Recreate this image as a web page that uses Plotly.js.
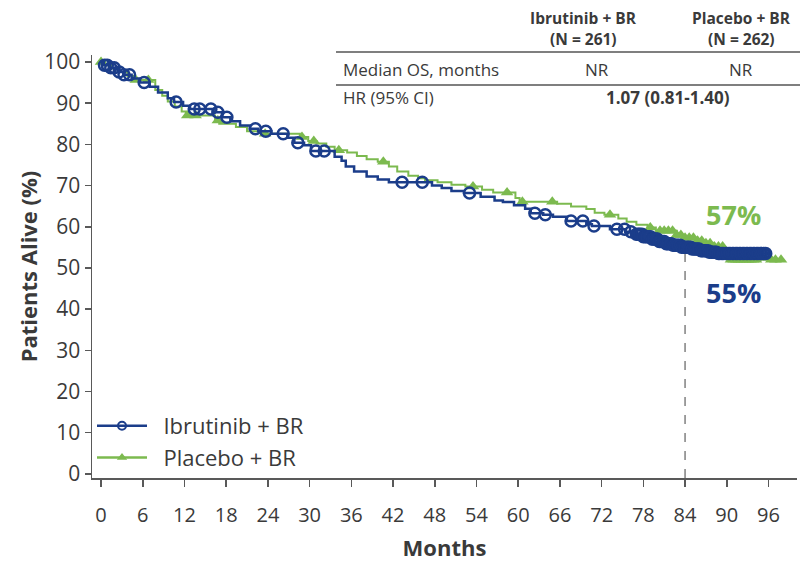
<!DOCTYPE html>
<html>
<head>
<meta charset="utf-8">
<script src="https://cdn.plot.ly/plotly-3.0.1.min.js"></script>
<style>
  html, body { margin: 0; padding: 0; background: #ffffff; }
  #chart { width: 800px; height: 563px; }
</style>
</head>
<body>
<div id="chart"></div>
<script>
// ---- Data ----
const seriesNames = ["Ibrutinib + BR", "Placebo + BR"];

// Ibrutinib + BR: Kaplan-Meier steps (month, % alive after that month)
const ibruTimes = [0, 0.4, 1.2, 2.4, 3.2, 4.4, 5.6, 7.0, 8.2, 9.6, 10.5, 11.8, 12.8, 16.2, 17.4, 18.6, 20.0, 21.4, 22.6, 24.5, 26.8, 27.8, 29.2, 30.2, 33.6, 34.6, 35.2, 36.4, 38.2, 39.8, 41.4, 47.6, 49.0, 50.4, 52.2, 54.6, 56.6, 57.8, 59.4, 61.0, 61.8, 63.6, 65.0, 67.0, 69.8, 70.6, 73.2, 75.4, 77.0, 78.0, 79.2, 80.2, 81.2, 82.2, 83.4, 85.0, 86.2, 87.4, 88.6];
const ibruSurv  = [100, 99.2, 98.6, 97.6, 96.9, 96.0, 95.0, 94.0, 92.6, 91.2, 90.3, 89.4, 88.6, 87.8, 86.6, 85.6, 84.6, 83.8, 83.2, 82.6, 81.6, 80.4, 79.8, 78.4, 77.0, 76.0, 74.6, 73.4, 72.2, 71.5, 70.8, 70.0, 69.4, 68.7, 68.2, 67.3, 66.4, 66.0, 65.2, 64.4, 63.3, 62.9, 62.4, 61.4, 60.6, 60.2, 59.4, 58.8, 58.2, 57.6, 57.0, 56.4, 55.9, 55.5, 55.0, 54.6, 54.2, 53.8, 53.5];
const ibruCensor = [0.5, 0.9, 1.4, 1.9, 2.6, 3.3, 4.1, 6.2, 10.8, 13.4, 14.2, 15.8, 16.8, 18.1, 22.2, 23.7, 26.2, 28.3, 30.9, 32.1, 43.3, 46.2, 53.0, 62.4, 63.9, 67.6, 69.3, 70.9, 74.2, 75.3, 76.2,
  77.0, 77.3, 77.5, 77.8, 78.0, 78.3, 78.5, 78.8, 79.0, 79.3, 79.5, 79.8, 80.0, 80.3, 80.5, 80.8, 81.0, 81.3, 81.5, 81.8, 82.0, 82.3, 82.5, 82.8, 83.0, 83.3, 83.5, 83.8, 84.0, 84.3, 84.5, 84.8, 85.0, 85.3, 85.5, 85.8, 86.0, 86.3, 86.5, 86.8, 87.0, 87.3, 87.5, 87.8, 88.0, 88.3, 88.5, 88.8, 89.0, 89.3, 89.5, 89.8, 90.0, 90.3, 90.5, 90.8, 91.0, 91.3, 91.5, 91.8, 92.0, 92.3, 92.5, 92.8, 93.0, 93.3, 93.5, 93.8, 94.0, 94.3, 94.5, 94.8, 95.0, 95.3, 95.6];

// Placebo + BR
const placTimes = [0, 0.6, 1.6, 2.6, 3.8, 4.8, 7.8, 8.8, 9.6, 10.6, 11.6, 12.2, 16.4, 17.0, 19.4, 21.0, 23.0, 28.6, 29.8, 31.0, 32.4, 33.6, 35.4, 36.8, 38.2, 39.8, 41.4, 42.6, 44.2, 45.6, 46.6, 48.4, 50.4, 52.4, 54.8, 56.4, 59.6, 60.2, 65.6, 67.6, 69.8, 71.0, 72.4, 74.4, 75.6, 77.0, 78.6, 79.8, 82.8, 83.6, 85.6, 86.8, 88.2, 89.6, 90.4];
const placSurv  = [100, 99.2, 98.4, 97.6, 96.6, 95.6, 93.2, 91.8, 90.4, 89.2, 88.0, 87.0, 85.8, 85.0, 84.2, 83.2, 82.6, 81.8, 80.8, 80.2, 79.4, 78.6, 78.0, 77.2, 76.4, 75.8, 74.6, 73.4, 72.4, 71.8, 71.3, 70.8, 70.2, 69.8, 69.0, 68.3, 67.0, 66.1, 65.6, 64.9, 64.3, 63.4, 62.9, 62.0, 61.2, 60.5, 59.8, 59.0, 58.0, 57.3, 56.6, 56.0, 55.2, 54.0, 52.0];
const placCensor = [0, 5.0, 6.8, 12.4, 13.6, 16.8, 23.6, 28.9, 30.6, 34.2, 40.6, 53.5, 58.4, 60.6, 64.9, 73.2, 79.0, 80.4, 81.0, 81.6, 82.2, 82.8, 83.4, 84.0, 84.6, 85.2, 85.8, 86.4, 87.0, 87.6, 88.2, 88.8, 89.4,
  90.6, 91.0, 91.4, 91.8, 92.2, 92.6, 93.0, 93.4, 93.8, 94.2, 96.4, 97.0, 97.8];

// Landmark
const landmarkMonth = 84;
const landmarkLabels = ["57%", "55%"];

// Table
const tableHeader = ["Ibrutinib + BR", "(N = 261)", "Placebo + BR", "(N = 262)"];
const tableRowLabels = ["Median OS, months", "HR (95% CI)"];
const medianOS = ["NR", "NR"];
const hrText = "1.07 (0.81-1.40)";

// Axis ticks
const xTicks = [0, 6, 12, 18, 24, 30, 36, 42, 48, 54, 60, 66, 72, 78, 84, 90, 96];
const yTicks = [0, 10, 20, 30, 40, 50, 60, 70, 80, 90, 100];

// ---- Helpers ----
function survAt(times, surv, t) {
  let v = surv[0];
  for (let i = 0; i < times.length; i++) { if (times[i] <= t) v = surv[i]; else break; }
  return v;
}
function stepLine(times, surv, censor) {
  const last = censor[censor.length - 1];
  const x = times.slice(), y = surv.slice();
  if (last > x[x.length - 1]) { x.push(last); y.push(y[y.length - 1]); }
  return {x, y};
}

const NAVY = "#1b3d8a";
const GREEN = "#7cba4f";
const AXC = "#595959";
const TXT = "#3a3a3a";
const FONT = "'Open Sans', 'Noto Sans', sans-serif";
const NB = "\u00a0\u00a0";

const ibruLine = stepLine(ibruTimes, ibruSurv, ibruCensor);
const placLine = stepLine(placTimes, placSurv, placCensor);

const traces = [
  { x: [null], y: [null], type: "scatter", mode: "lines+markers", name: NB + seriesNames[0],
    line: {color: NAVY, width: 2.5},
    marker: {symbol: "circle-open", size: 8, color: NAVY, line: {width: 2, color: NAVY}} },
  { x: [null], y: [null], type: "scatter", mode: "lines+markers", name: NB + seriesNames[1],
    line: {color: GREEN, width: 2.5},
    marker: {symbol: "triangle-up", size: 9, color: GREEN} },
  { x: placLine.x, y: placLine.y, type: "scatter", mode: "lines", showlegend: false, hoverinfo: "skip",
    line: {color: GREEN, width: 2, shape: "hv"} },
  { x: placCensor, y: placCensor.map(t => survAt(placTimes, placSurv, t)), type: "scatter", mode: "markers",
    showlegend: false, marker: {symbol: "triangle-up", size: 11, color: GREEN} },
  { x: ibruLine.x, y: ibruLine.y, type: "scatter", mode: "lines", showlegend: false, hoverinfo: "skip",
    line: {color: NAVY, width: 2.5, shape: "hv"} },
  { x: ibruCensor, y: ibruCensor.map(t => survAt(ibruTimes, ibruSurv, t)), type: "scatter", mode: "markers",
    showlegend: false, marker: {symbol: "circle-open", size: 11, color: NAVY, line: {width: 2.5, color: NAVY}} }
];

// pixel helpers for table placement (plot area: x 92..797, y 55..478)
const L = 92, R = 3, T = 55, B = 85, W = 800 - L - R, H = 563 - T - B;
const px = v => (v - L) / W;
const py = v => (563 - B - v) / H;

const ann = [];
function addText(text, x, y, opts) {
  ann.push(Object.assign({ text, xref: "paper", yref: "paper", x: px(x), y: py(y), showarrow: false,
    xanchor: "center", yanchor: "middle", font: {family: FONT, size: 17, color: TXT} }, opts || {}));
}
const hdrFont = {family: FONT, size: 15.5, color: TXT};
addText("<b>" + tableHeader[0] + "</b>", 583, 18, {font: hdrFont});
addText("<b>" + tableHeader[1] + "</b>", 583, 39, {font: hdrFont});
addText("<b>" + tableHeader[2] + "</b>", 741, 18, {font: hdrFont});
addText("<b>" + tableHeader[3] + "</b>", 741, 39, {font: hdrFont});
addText(tableRowLabels[0], 341, 69, {xanchor: "left"});
addText(medianOS[0], 597, 69);
addText(medianOS[1], 741, 69);
addText(tableRowLabels[1], 341, 97, {xanchor: "left"});
addText("<b>" + hrText + "</b>", 668, 97);

// landmark labels (data coords)
ann.push({ text: "<b>" + landmarkLabels[0] + "</b>", x: 91, y: 63, xref: "x", yref: "y", showarrow: false,
  font: {family: FONT, size: 27, color: GREEN} });
ann.push({ text: "<b>" + landmarkLabels[1] + "</b>", x: 91, y: 44, xref: "x", yref: "y", showarrow: false,
  font: {family: FONT, size: 27, color: NAVY} });

const shapes = [
  { type: "line", xref: "paper", yref: "paper", x0: px(336), x1: px(800), y0: py(52), y1: py(52),
    line: {color: "#555555", width: 1.5} },
  { type: "line", xref: "paper", yref: "paper", x0: px(336), x1: px(800), y0: py(85), y1: py(85),
    line: {color: "#555555", width: 1.5} },
  { type: "line", xref: "x", yref: "y", x0: landmarkMonth, x1: landmarkMonth, y0: -1,
    y1: survAt(ibruTimes, ibruSurv, landmarkMonth), line: {color: "#808080", width: 1.5, dash: "dash"}, layer: "below" }
];

const layout = {
  width: 800, height: 563,
  margin: {l: L, r: R, t: T, b: B},
  paper_bgcolor: "#ffffff", plot_bgcolor: "#ffffff",
  font: {family: FONT, color: TXT},
  showlegend: true,
  legend: { x: 0.0, y: py(405), xanchor: "left", yanchor: "top", itemwidth: 50,
    font: {family: FONT, size: 22, color: TXT}, bgcolor: "rgba(0,0,0,0)", tracegroupgap: 0 },
  xaxis: {
    range: [-1.3, 100.1], tickvals: xTicks, ticktext: xTicks.map(String),
    showline: true, linecolor: AXC, linewidth: 1.5, ticks: "outside", ticklen: 7, tickwidth: 1.5, tickcolor: AXC,
    showgrid: false, zeroline: false, tickfont: {family: FONT, size: 20, color: TXT}, ticklabelstandoff: 11,
    title: {text: "<b>Months</b>", font: {family: FONT, size: 22, color: TXT}, standoff: 14}
  },
  yaxis: {
    range: [-1, 101.7], tickvals: yTicks, ticktext: yTicks.map(String),
    showline: true, linecolor: AXC, linewidth: 1.5, ticks: "outside", ticklen: 6, tickwidth: 1.5, tickcolor: AXC,
    showgrid: false, zeroline: false, tickfont: {family: FONT, size: 21, color: TXT},
    title: {text: "<b>Patients Alive (%)</b>", font: {family: FONT, size: 22, color: TXT}, standoff: 0}
  },
  annotations: ann,
  shapes: shapes
};

Plotly.newPlot("chart", traces, layout, {displayModeBar: false, staticPlot: true});
</script>
</body>
</html>
